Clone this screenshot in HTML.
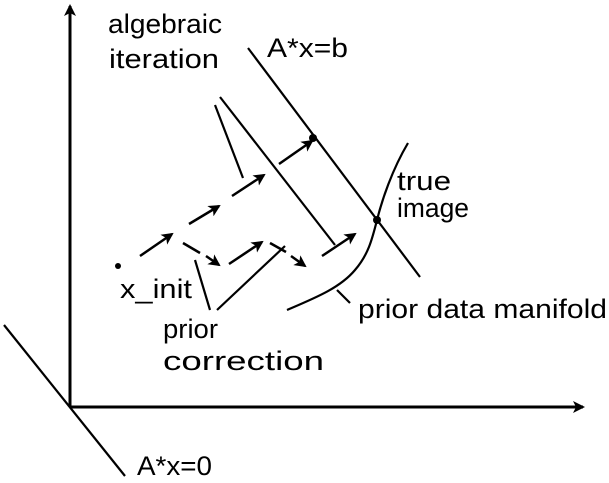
<!DOCTYPE html>
<html><head><style>html,body{margin:0;padding:0;background:#fff;}svg{display:block}</style></head>
<body>
<svg width="609" height="483" viewBox="0 0 609 483" xmlns="http://www.w3.org/2000/svg" font-family="Liberation Sans, sans-serif" font-size="27" fill="#000">
<defs>
<marker id="ah" markerWidth="12" markerHeight="12" refX="10" refY="6" orient="auto" markerUnits="userSpaceOnUse">
<path d="M0,0 L12,6 L0,12 L3,6 Z" fill="#000"/>
</marker>
</defs>
<g stroke="#000" fill="none" stroke-width="2.2">
<line x1="70" y1="407" x2="70" y2="6" stroke-width="3" marker-end="url(#ah)"/>
<line x1="70" y1="407" x2="583" y2="407" stroke-width="3" marker-end="url(#ah)"/>
<line x1="4" y1="325" x2="125" y2="476"/>
<line x1="248" y1="48" x2="420" y2="277"/>
<line x1="220" y1="97" x2="335" y2="245"/>
<line x1="215" y1="105" x2="243" y2="178"/>
<line x1="195" y1="260" x2="210" y2="310"/>
<line x1="285" y1="246" x2="217" y2="310"/>
<line x1="337" y1="290" x2="350" y2="303"/>
<path d="M408,143 C392,170 382,200 377,220 C372,240 368,255 355,270 C340,288 315,298 287,310"/>
<g stroke-width="2.5">
<line x1="140" y1="256" x2="172" y2="234" marker-end="url(#ah)"/>
<line x1="189" y1="224" x2="219" y2="206" marker-end="url(#ah)"/>
<line x1="232" y1="196" x2="264" y2="175" marker-end="url(#ah)"/>
<line x1="279" y1="164" x2="312" y2="141" marker-end="url(#ah)"/>
<line x1="183" y1="243" x2="200" y2="253"/>
<line x1="206" y1="256" x2="219" y2="265" marker-end="url(#ah)"/>
<line x1="229" y1="264" x2="262" y2="242" marker-end="url(#ah)"/>
<line x1="270" y1="243" x2="286" y2="252"/>
<line x1="291" y1="256" x2="305" y2="266" marker-end="url(#ah)"/>
<line x1="322" y1="256" x2="355" y2="234" marker-end="url(#ah)"/>
</g>
</g>
<circle cx="313" cy="138" r="4"/>
<circle cx="377" cy="220" r="4"/>
<circle cx="118" cy="266" r="3"/>
<text x="108" y="33" textLength="114" lengthAdjust="spacingAndGlyphs">algebraic</text>
<text x="109" y="68" textLength="110" lengthAdjust="spacingAndGlyphs">iteration</text>
<text x="267" y="57" textLength="81" lengthAdjust="spacingAndGlyphs">A*x=b</text>
<text x="397" y="190" textLength="54" lengthAdjust="spacingAndGlyphs">true</text>
<text x="397" y="217" textLength="72" lengthAdjust="spacingAndGlyphs">image</text>
<text x="120" y="298" textLength="72" lengthAdjust="spacingAndGlyphs">x_init</text>
<text x="358" y="318" textLength="249" lengthAdjust="spacingAndGlyphs">prior data manifold</text>
<text x="163" y="338" textLength="55" lengthAdjust="spacingAndGlyphs">prior</text>
<text x="163" y="370" textLength="161" lengthAdjust="spacingAndGlyphs">correction</text>
<text x="137" y="475" textLength="75" lengthAdjust="spacingAndGlyphs">A*x=0</text>
</svg>
</body></html>
